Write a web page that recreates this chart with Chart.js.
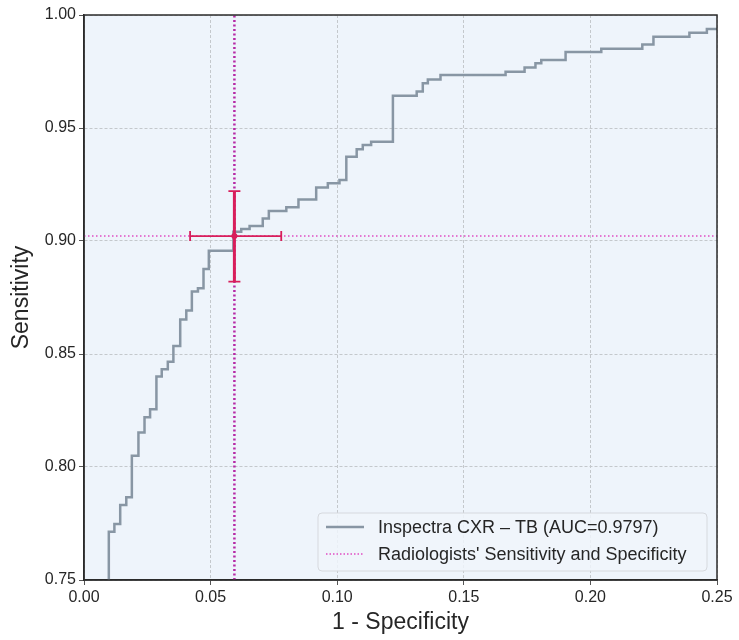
<!DOCTYPE html>
<html>
<head>
<meta charset="utf-8">
<script src="https://cdn.jsdelivr.net/npm/chart.js@4.4.1/dist/chart.umd.min.js"></script>
<style>
  body { margin: 0; background: #fff; }
  #rocChart { display: block; }
</style>
</head>
<body>
<canvas id="rocChart" width="739" height="640"></canvas>
<script>
// ROC curve vertices (1 - specificity, sensitivity)
var rocFpr = [0.0098, 0.0098, 0.0120, 0.0143, 0.0167, 0.0189, 0.0215, 0.0239, 0.0261, 0.0286,
  0.0307, 0.0331, 0.0353, 0.0380, 0.0404, 0.0426, 0.0450, 0.0472, 0.0493, 0.0590,
  0.0621, 0.0654, 0.0706, 0.0730, 0.0799, 0.0847, 0.0917, 0.0963, 0.1009, 0.1036,
  0.1077, 0.1101, 0.1134, 0.1220, 0.1314, 0.1338, 0.1358, 0.1408, 0.1665, 0.1740,
  0.1783, 0.1806, 0.1902, 0.2043, 0.2205, 0.2249, 0.2391, 0.2460, 0.2500];
var rocTpr = [0.7400, 0.7714, 0.7748, 0.7832, 0.7866, 0.8050, 0.8153, 0.8220, 0.8255, 0.8400,
  0.8432, 0.8466, 0.8535, 0.8653, 0.8692, 0.8776, 0.8791, 0.8876, 0.8957, 0.9041,
  0.9053, 0.9066, 0.9100, 0.9133, 0.9149, 0.9184, 0.9237, 0.9255, 0.9270, 0.9373,
  0.9406, 0.9425, 0.9439, 0.9643, 0.9661, 0.9698, 0.9715, 0.9735, 0.9749, 0.9768,
  0.9786, 0.9801, 0.9836, 0.9851, 0.9870, 0.9904, 0.9922, 0.9938, 0.9938];

// radiologists' operating point with confidence intervals
var radFpr = 0.0594;
var radFprCI = [0.0419, 0.0779];
var radSens = 0.9022;
var radSensCI = [0.8820, 0.9221];

var xTicks = [0.00, 0.05, 0.10, 0.15, 0.20, 0.25];
var yTicks = [0.75, 0.80, 0.85, 0.90, 0.95, 1.00];

var curveLabel = "Inspectra CXR \u2013 TB (AUC=0.9797)";
var radLabel = "Radiologists' Sensitivity and Specificity";

var curveColor = "#8896a4";
var dotColor = "#e04cc4";
var errColor = "#d81e5b";
var fontFamily = "'Liberation Sans', Arial, sans-serif";

var rocPoints = rocFpr.map(function (x, i) { return { x: x, y: rocTpr[i] }; });

var backgroundPlugin = {
  id: "plotBackground",
  beforeDraw: function (chart) {
    var a = chart.chartArea;
    var ctx = chart.ctx;
    ctx.save();
    ctx.fillStyle = "#eef4fb";
    ctx.fillRect(a.left, a.top, a.right - a.left, a.bottom - a.top);
    ctx.restore();
  }
};

var errorBarPlugin = {
  id: "errorBars",
  afterDatasetsDraw: function (chart) {
    var ctx = chart.ctx;
    var xs = chart.scales.x;
    var ys = chart.scales.y;
    var cx = xs.getPixelForValue(radFpr);
    var cy = ys.getPixelForValue(radSens);
    var x0 = xs.getPixelForValue(radFprCI[0]);
    var x1 = xs.getPixelForValue(radFprCI[1]);
    var y0 = ys.getPixelForValue(radSensCI[0]);
    var y1 = ys.getPixelForValue(radSensCI[1]);
    ctx.save();
    ctx.strokeStyle = errColor;
    // horizontal bar
    ctx.lineWidth = 1.8;
    ctx.beginPath();
    ctx.moveTo(x0, cy); ctx.lineTo(x1, cy);
    ctx.moveTo(x0, cy - 5); ctx.lineTo(x0, cy + 5);
    ctx.moveTo(x1, cy - 5); ctx.lineTo(x1, cy + 5);
    ctx.stroke();
    // vertical bar
    ctx.lineWidth = 3;
    ctx.beginPath();
    ctx.moveTo(cx, y0); ctx.lineTo(cx, y1);
    ctx.stroke();
    ctx.lineWidth = 1.8;
    ctx.beginPath();
    ctx.moveTo(cx - 6, y0); ctx.lineTo(cx + 6, y0);
    ctx.moveTo(cx - 6, y1); ctx.lineTo(cx + 6, y1);
    ctx.stroke();
    ctx.fillStyle = errColor;
    ctx.beginPath();
    ctx.arc(cx, cy, 3, 0, Math.PI * 2);
    ctx.fill();
    ctx.restore();
  }
};

var framePlugin = {
  id: "frameAndLegend",
  afterDraw: function (chart) {
    var a = chart.chartArea;
    var ctx = chart.ctx;
    ctx.save();
    ctx.strokeStyle = "#2b2b2b";
    ctx.lineWidth = 1.5;
    ctx.strokeRect(a.left, a.top, a.right - a.left, a.bottom - a.top);

    // legend box, bottom right inside the plot
    var bx = a.left + 234, by = a.bottom - 67, bw = 389, bh = 58, r = 4;
    ctx.beginPath();
    ctx.moveTo(bx + r, by);
    ctx.arcTo(bx + bw, by, bx + bw, by + bh, r);
    ctx.arcTo(bx + bw, by + bh, bx, by + bh, r);
    ctx.arcTo(bx, by + bh, bx, by, r);
    ctx.arcTo(bx, by, bx + bw, by, r);
    ctx.closePath();
    ctx.fillStyle = "rgba(240,244,250,0.85)";
    ctx.fill();
    ctx.strokeStyle = "#d6d9de";
    ctx.lineWidth = 1;
    ctx.stroke();

    ctx.lineWidth = 2.5;
    ctx.strokeStyle = curveColor;
    ctx.beginPath();
    ctx.moveTo(bx + 8, by + 14); ctx.lineTo(bx + 46, by + 14);
    ctx.stroke();
    ctx.lineWidth = 1.5;
    ctx.strokeStyle = dotColor;
    ctx.setLineDash([1.5, 2]);
    ctx.beginPath();
    ctx.moveTo(bx + 8, by + 41); ctx.lineTo(bx + 46, by + 41);
    ctx.stroke();
    ctx.setLineDash([]);

    ctx.fillStyle = "#262626";
    ctx.font = "18px " + fontFamily;
    ctx.textBaseline = "middle";
    ctx.fillText(curveLabel, bx + 60, by + 15);
    ctx.fillText(radLabel, bx + 60, by + 42);
    ctx.restore();
  }
};

function initializeChart() {
  var el = document.getElementById("rocChart");
  new Chart(el, {
    type: "line",
    data: {
      datasets: [
        {
          label: curveLabel,
          data: rocPoints,
          borderColor: curveColor,
          borderWidth: 2.5,
          pointRadius: 0,
          stepped: "before",
          fill: false
        },
        {
          label: radLabel,
          data: [{ x: 0, y: radSens }, { x: 0.25, y: radSens }],
          borderColor: dotColor,
          borderWidth: 1.5,
          borderDash: [1.5, 2.5],
          pointRadius: 0
        },
        {
          label: "vertical",
          data: [{ x: radFpr, y: 0.75 }, { x: radFpr, y: 1.0 }],
          borderColor: "#b62aa6",
          borderWidth: 2.5,
          borderDash: [2, 2.5],
          pointRadius: 0
        }
      ]
    },
    options: {
      responsive: false,
      animation: false,
      layout: { padding: { top: 15, right: 22, left: 0, bottom: 0 } },
      plugins: {
        legend: { display: false },
        tooltip: { enabled: false }
      },
      scales: {
        x: {
          type: "linear",
          min: 0,
          max: 0.25,
          afterFit: function (s) { s.height = 60; },
          afterBuildTicks: function (s) { s.ticks = xTicks.map(function (v) { return { value: v }; }); },
          ticks: {
            callback: function (v) { return v.toFixed(2); },
            font: { size: 16, family: fontFamily },
            color: "#262626",
            padding: 3,
            maxRotation: 0
          },
          grid: { color: "#c4c8cc", tickLength: 5, tickColor: "#555" },
          border: { color: "#2b2b2b", width: 1.5, dash: [3, 2] },
          title: {
            display: true,
            text: "1 - Specificity",
            font: { size: 23, family: fontFamily },
            color: "#262626",
            padding: { top: 0, bottom: 4 }
          }
        },
        y: {
          type: "linear",
          min: 0.75,
          max: 1.0,
          afterFit: function (s) { s.width = 84; },
          afterBuildTicks: function (s) { s.ticks = yTicks.map(function (v) { return { value: v }; }); },
          ticks: {
            callback: function (v) { return v.toFixed(2); },
            font: { size: 16, family: fontFamily },
            color: "#262626",
            padding: 3
          },
          grid: { color: "#c4c8cc", tickLength: 5, tickColor: "#555" },
          border: { color: "#2b2b2b", width: 1.5, dash: [3, 2] },
          title: {
            display: true,
            text: "Sensitivity",
            font: { size: 23, family: fontFamily },
            color: "#262626",
            padding: { top: 8, bottom: 0 }
          }
        }
      }
    },
    plugins: [backgroundPlugin, errorBarPlugin, framePlugin]
  });
}

window.onload = function () {
  initializeChart();
};
</script>
</body>
</html>
